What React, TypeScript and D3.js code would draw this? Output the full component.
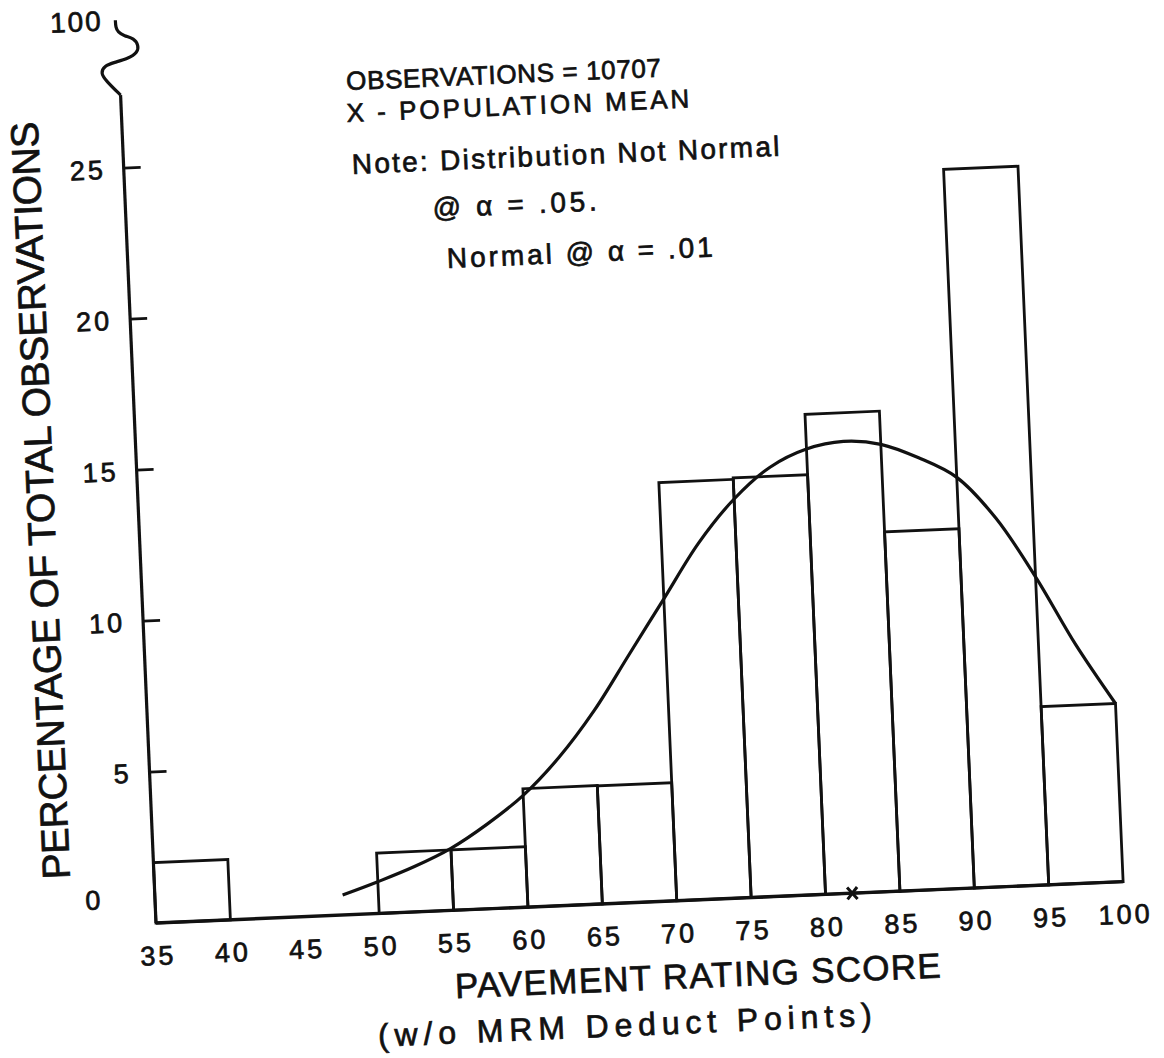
import { useEffect, useRef } from 'react';
import { select, scaleLinear, line, curveBasis, curveCatmullRom } from 'd3';

// histogram bins (lower edge, width 5) and percentage of observations
const binLower = [35, 50, 55, 60, 65, 70, 75, 80, 85, 90, 95];
const binPct = [2.0, 2.0, 2.0, 3.92, 3.91, 13.85, 13.9, 15.9, 11.9, 23.8, 5.9];

// fitted curve
const curveX = [47.6, 50, 52.5, 55, 57.5, 60, 62.5, 65, 67.5, 70, 72.5, 75, 77.5, 80, 82.5, 85, 87.5, 90, 92.5, 95, 97.5, 100];
const curveY = [0.66, 1.05, 1.5, 2.05, 2.8, 3.7, 4.9, 6.4, 8.2, 10.0, 11.8, 13.2, 14.2, 14.75, 14.95, 14.8, 14.3, 13.6, 12.2, 10.2, 7.9, 5.9];

const meanScore = 81.8;

const xTickLabels = [35, 40, 45, 50, 55, 60, 65, 70, 75, 80, 85, 90, 95, 100];
const yTicks = [5, 10, 15, 20, 25];

const noteLines = [
  'OBSERVATIONS = 10707',
  'X - POPULATION MEAN',
  'Note: Distribution Not Normal',
  '@ α = .05.',
  'Normal @ α = .01',
];

const FONT = '"Liberation Sans", Arial, sans-serif';
const INK = '#111';

export default function App() {
  const svgRef = useRef<SVGSVGElement>(null);

  useEffect(() => {
    if (!svgRef.current) return;
    const svg = select(svgRef.current);
    svg.selectAll('*').remove();

    const width = 1164;
    const height = 1058;
    svg.attr('width', width).attr('height', height);
    svg.append('rect').attr('width', width).attr('height', height).attr('fill', '#fff');

    // the scanned sheet is turned a little, so the whole plot is rotated
    const g = svg.append('g').attr('transform', 'translate(156,923) rotate(-2.45)');

    const x = scaleLinear().domain([35, 100]).range([0, 968]);
    const y = scaleLinear().domain([0, 25]).range([0, -755.5]);

    const label = (sel: any, size: number) =>
      sel
        .attr('font-family', FONT)
        .attr('font-size', size)
        .attr('fill', INK)
        .attr('stroke', INK)
        .attr('stroke-width', 0.7);

    // bars
    g.selectAll('.bar')
      .data(binLower.map((lo, i) => ({ lo, pct: binPct[i] })))
      .enter()
      .append('rect')
      .attr('class', 'bar')
      .attr('x', (d) => x(d.lo))
      .attr('y', (d) => y(d.pct))
      .attr('width', (d) => x(d.lo + 5) - x(d.lo))
      .attr('height', (d) => -y(d.pct))
      .attr('fill', 'none')
      .attr('stroke', INK)
      .attr('stroke-width', 2.8);

    // x axis line
    g.append('line')
      .attr('x1', x(35))
      .attr('x2', x(100))
      .attr('y1', y(0))
      .attr('y2', y(0))
      .attr('stroke', INK)
      .attr('stroke-width', 3.4);

    // y axis with break symbol at the top
    const axisTop = y(27.42);
    g.append('line')
      .attr('x1', 0)
      .attr('x2', 0)
      .attr('y1', y(0))
      .attr('y2', axisTop)
      .attr('stroke', INK)
      .attr('stroke-width', 3.2);

    const breakPts: [number, number][] = [
      [0, 0], [-14, -15], [-19, -23], [-15, -30], [-5, -33], [9, -36], [19, -42],
      [20, -49], [16, -56], [6, -59], [0, -63], [-2, -68], [-2, -75],
    ];
    g.append('path')
      .attr('d', line<[number, number]>()
        .x((d) => d[0])
        .y((d) => axisTop + d[1])
        .curve(curveBasis)(breakPts))
      .attr('fill', 'none')
      .attr('stroke', INK)
      .attr('stroke-width', 3.2);

    label(g.append('text'), 28)
      .attr('x', -41)
      .attr('y', -894)
      .attr('text-anchor', 'middle')
      .attr('letter-spacing', 2)
      .text('100');

    // y ticks
    g.selectAll('.ytick')
      .data(yTicks)
      .enter()
      .append('line')
      .attr('x1', 0)
      .attr('x2', 17)
      .attr('y1', (d) => y(d))
      .attr('y2', (d) => y(d))
      .attr('stroke', INK)
      .attr('stroke-width', 2.8);

    label(g.selectAll('.ylab').data(yTicks).enter().append('text'), 27)
      .attr('x', -18)
      .attr('y', (d: number) => y(d) + 10)
      .attr('text-anchor', 'end')
      .attr('letter-spacing', 3)
      .text((d: number) => d);

    label(g.append('text'), 27)
      .attr('x', -62)
      .attr('y', -16)
      .attr('text-anchor', 'middle')
      .text('0');

    // x tick labels
    label(g.selectAll('.xlab').data(xTickLabels).enter().append('text'), 27)
      .attr('x', (d: number) => x(d) + 1)
      .attr('y', 42)
      .attr('text-anchor', 'middle')
      .attr('letter-spacing', 3)
      .text((d: number) => d);

    // fitted curve
    g.append('path')
      .attr('d', line<number>()
        .x((d) => x(d))
        .y((_, i) => y(curveY[i]))
        .curve(curveCatmullRom)(curveX))
      .attr('fill', 'none')
      .attr('stroke', INK)
      .attr('stroke-width', 3.2);

    // population mean marker
    const mx = x(meanScore);
    g.append('path')
      .attr('d', `M${mx - 5},${-6}L${mx + 5},${6}M${mx + 5},${-6}L${mx - 5},${6}`)
      .attr('stroke', INK)
      .attr('stroke-width', 3);

    // notes
    const notePos = [
      { x: 226, y: -824, len: 315, size: 26 },
      { x: 225, y: -792, len: 343, size: 26 },
      { x: 228, y: -740, len: 428, size: 28 },
      { x: 307, y: -693, len: 164, size: 28 },
      { x: 319, y: -642, len: 266, size: 28 },
    ];
    noteLines.forEach((t, i) => {
      label(g.append('text'), notePos[i].size)
        .attr('x', notePos[i].x)
        .attr('y', notePos[i].y)
        .attr('textLength', notePos[i].len)
        .attr('lengthAdjust', 'spacing')
        .text(t);
    });

    // axis titles
    label(g.append('text'), 35)
      .attr('x', 296)
      .attr('y', 88)
      .attr('textLength', 486)
      .attr('lengthAdjust', 'spacing')
      .text('PAVEMENT RATING SCORE');

    label(g.append('text'), 32)
      .attr('x', 217)
      .attr('y', 133)
      .attr('textLength', 494)
      .attr('lengthAdjust', 'spacing')
      .text('(w/o MRM Deduct Points)');

    label(g.append('text'), 39)
      .attr('transform', 'translate(-84,-427) rotate(-90)')
      .attr('text-anchor', 'middle')
      .attr('textLength', 758)
      .attr('lengthAdjust', 'spacing')
      .text('PERCENTAGE OF TOTAL OBSERVATIONS');
  }, []);

  return (
    <svg
      ref={svgRef}
      style={{ position: 'absolute', left: 0, top: 0, display: 'block' }}
    />
  );
}
